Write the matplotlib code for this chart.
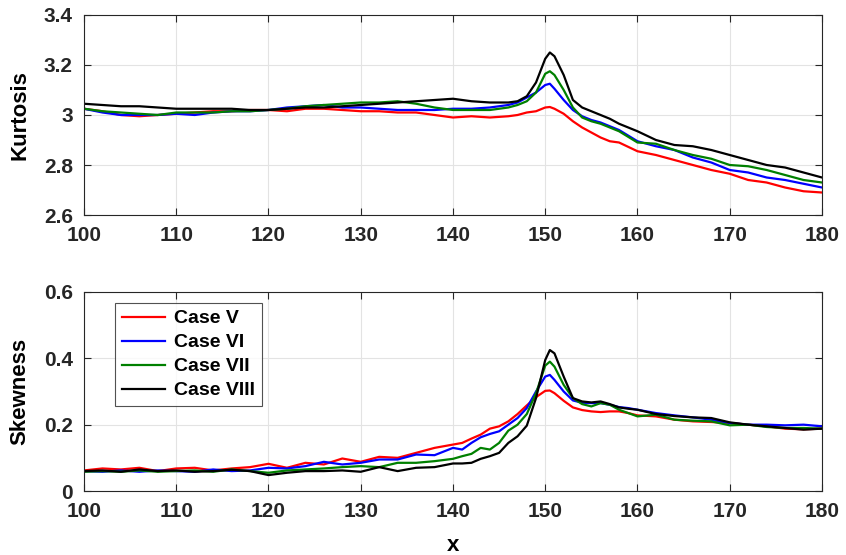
import numpy as np
import matplotlib
matplotlib.use("Agg")
import matplotlib.pyplot as plt

plt.rcParams["font.family"] = ["Liberation Sans", "DejaVu Sans"]
plt.rcParams["font.weight"] = "bold"

cases = ["Case V", "Case VI", "Case VII", "Case VIII"]
colors = ["#ff0000", "#0000ff", "#008000", "#000000"]

# kurtosis
xk = [100, 102, 104, 106, 108, 110, 112, 114, 116, 118, 120, 122, 124, 126, 128,
      130, 132, 134, 136, 138, 140, 142, 144, 146, 147, 148, 149, 150, 150.5, 151,
      152, 153, 154, 155, 156, 157, 158, 160, 162, 164, 166, 168, 170, 172, 174,
      176, 178, 180]
kurt_v = [3.025, 3.015, 3.0, 2.995, 3.0, 3.005, 3.01, 3.015, 3.015, 3.02, 3.02, 3.015,
          3.025, 3.025, 3.02, 3.015, 3.015, 3.01, 3.01, 3.0, 2.99, 2.995, 2.99, 2.995,
          3.0, 3.01, 3.015, 3.03, 3.032, 3.025, 3.005, 2.975, 2.95, 2.93, 2.91, 2.895,
          2.89, 2.855, 2.84, 2.82, 2.8, 2.78, 2.765, 2.74, 2.73, 2.71, 2.695, 2.69]
kurt_vi = [3.025, 3.01, 3.0, 3.0, 3.0, 3.005, 3.0, 3.01, 3.015, 3.015, 3.02, 3.03,
           3.035, 3.04, 3.03, 3.03, 3.025, 3.02, 3.02, 3.02, 3.025, 3.025, 3.03, 3.04,
           3.05, 3.07, 3.09, 3.12, 3.125, 3.105, 3.06, 3.02, 2.995, 2.98, 2.97, 2.955,
           2.94, 2.895, 2.875, 2.86, 2.83, 2.81, 2.78, 2.77, 2.75, 2.74, 2.725, 2.71]
kurt_vii = [3.025, 3.015, 3.01, 3.005, 3.0, 3.01, 3.01, 3.01, 3.015, 3.015, 3.02, 3.025,
            3.035, 3.04, 3.045, 3.05, 3.05, 3.055, 3.045, 3.03, 3.02, 3.02, 3.02, 3.03,
            3.04, 3.055, 3.09, 3.165, 3.175, 3.16, 3.1, 3.03, 2.99, 2.975, 2.965, 2.95,
            2.935, 2.89, 2.885, 2.86, 2.84, 2.825, 2.8, 2.795, 2.78, 2.76, 2.74, 2.73]
kurt_viii = [3.045, 3.04, 3.035, 3.035, 3.03, 3.025, 3.025, 3.025, 3.025, 3.02, 3.02,
             3.025, 3.03, 3.03, 3.035, 3.04, 3.045, 3.05, 3.055, 3.06, 3.065, 3.055,
             3.05, 3.05, 3.055, 3.075, 3.13, 3.225, 3.25, 3.235, 3.16, 3.06, 3.03, 3.015,
             3.0, 2.985, 2.965, 2.935, 2.9, 2.88, 2.875, 2.86, 2.84, 2.82, 2.8, 2.79,
             2.77, 2.75]

# skewness
xs = [100, 102, 104, 106, 108, 110, 112, 114, 116, 118, 120, 122, 124, 126, 128, 130,
      132, 134, 136, 138, 140, 141, 142, 143, 144, 145, 146, 147, 148, 149, 150, 150.5,
      151, 152, 153, 154, 155, 156, 157, 158, 159, 160, 162, 164, 166, 168, 170, 172,
      174, 176, 178, 180]
skew_v = [.062, .068, .065, .07, .06, .068, .07, .062, .068, .072, .082, .07, .085, .08,
          .098, .088, .103, .1, .115, .13, .14, .145, .158, .17, .188, .195, .21, .232,
          .258, .283, .302, .303, .295, .272, .252, .244, .24, .238, .24, .24, .235, .228,
          .225, .215, .21, .208, .205, .2, .195, .188, .186, .188]
skew_vi = [.06, .058, .062, .058, .062, .06, .058, .065, .06, .062, .07, .068, .075, .088,
           .08, .085, .095, .095, .11, .108, .13, .125, .145, .162, .172, .18, .2, .22,
           .25, .3, .345, .35, .335, .3, .273, .266, .265, .265, .26, .253, .25, .245,
           .235, .228, .222, .215, .205, .2, .2, .198, .2, .195]
skew_vii = [.058, .06, .058, .062, .058, .06, .062, .058, .065, .06, .055, .062, .065,
            .068, .072, .075, .072, .085, .085, .09, .097, .105, .112, .13, .125, .145,
            .182, .2, .232, .295, .378, .39, .375, .32, .28, .262, .255, .265, .26, .245,
            .235, .225, .23, .215, .212, .21, .198, .2, .193, .19, .19, .188]
skew_viii = [.06, .062, .058, .065, .06, .062, .058, .06, .064, .06, .048, .055, .06, .06,
             .062, .058, .072, .06, .07, .072, .083, .083, .085, .097, .105, .115, .145,
             .165, .197, .28, .395, .425, .415, .345, .28, .27, .267, .27, .262, .252,
             .248, .245, .232, .226, .222, .22, .207, .2, .195, .19, .185, .188]

kurt = [kurt_v, kurt_vi, kurt_vii, kurt_viii]
skew = [skew_v, skew_vi, skew_vii, skew_viii]

fig = plt.figure(figsize=(8.46, 5.55), dpi=100)
ax1 = fig.add_axes([0.0993, 0.6126, 0.8723, 0.3604])
ax2 = fig.add_axes([0.0993, 0.1153, 0.8723, 0.3586])

for c, col, yk, ys in zip(cases, colors, kurt, skew):
    ax1.plot(xk, yk, color=col, lw=1.6, label=c)
    ax2.plot(xs, ys, color=col, lw=1.6, label=c)

ax1.set_ylim(2.6, 3.4)
ax1.set_yticks([2.6, 2.8, 3.0, 3.2, 3.4])
ax1.set_yticklabels(["2.6", "2.8", "3", "3.2", "3.4"])
ax1.set_ylabel("Kurtosis", fontsize=16, fontweight="bold", labelpad=10)

ax2.set_ylim(0, 0.6)
ax2.set_yticks([0, 0.2, 0.4, 0.6])
ax2.set_yticklabels(["0", "0.2", "0.4", "0.6"])
ax2.set_ylabel("Skewness", fontsize=16, fontweight="bold", labelpad=10)
ax2.set_xlabel("x", fontsize=16, fontweight="bold", labelpad=10)

for ax in (ax1, ax2):
    ax.set_xlim(100, 180)
    ax.set_xticks(np.arange(100, 181, 10))
    ax.grid(True, color="#e3e3e3", lw=0.8)
    ax.set_axisbelow(True)
    ax.tick_params(direction="in", length=5, width=0.8, top=True, right=True,
                   labelsize=15, colors="#262626")
    ax.tick_params(axis="x", pad=8)
    ax.tick_params(axis="y", pad=8)
    for lab in ax.get_xticklabels() + ax.get_yticklabels():
        lab.set_fontweight("bold")
    for s in ax.spines.values():
        s.set_color("#262626")
        s.set_linewidth(0.8)

leg = ax2.legend(loc="upper left", bbox_to_anchor=(0.042, 0.945), borderaxespad=0,
                 prop={"weight": "bold", "size": 14}, frameon=True, fancybox=False,
                 edgecolor="#262626", handlelength=2.2, borderpad=0.35,
                 labelspacing=0.33, handletextpad=0.5)
leg.get_frame().set_linewidth(0.8)

fig.savefig("out.png", dpi=100)
